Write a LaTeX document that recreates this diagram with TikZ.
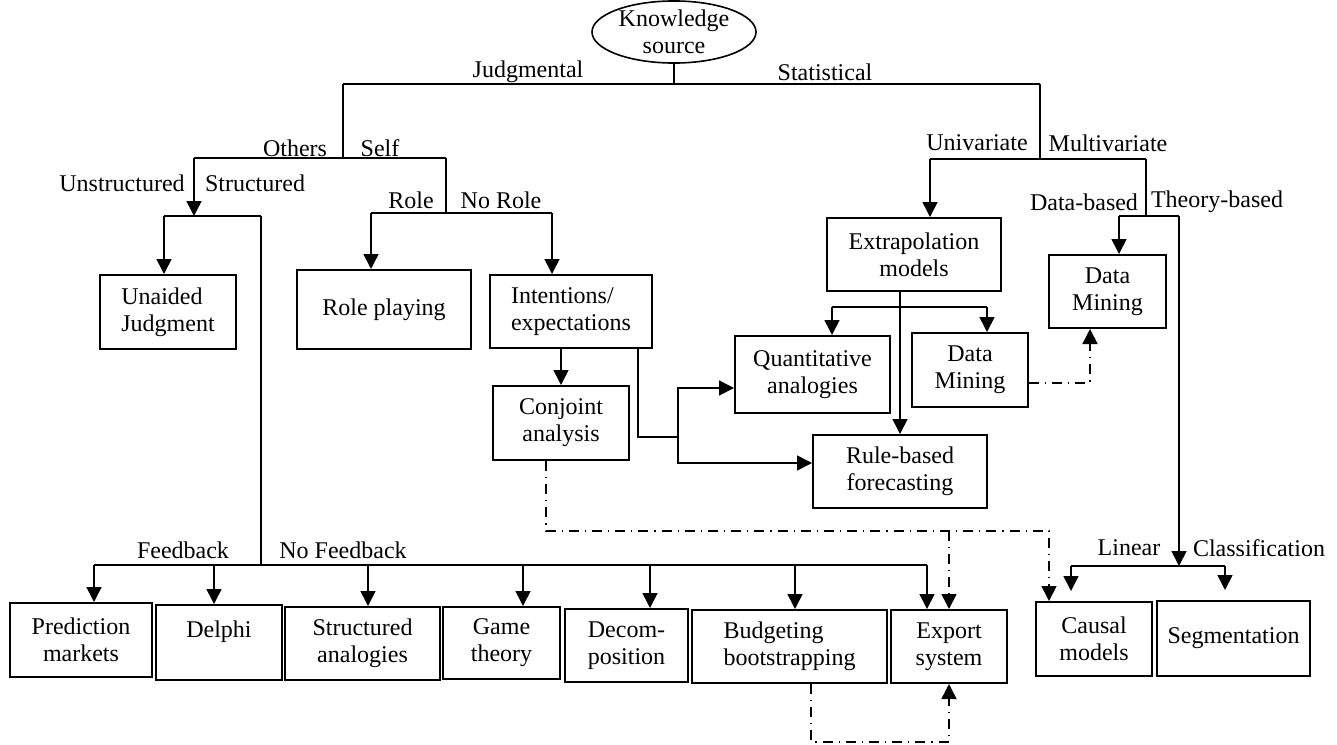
\documentclass[tikz,border=0pt]{standalone}
\usepackage{fontspec}
\setmainfont{Liberation Serif}
\usetikzlibrary{shapes.geometric,arrows.meta,calc}

\def\drop#1#2{\draw[arr] (#1) -- (#1 |- #2.north);}

\tikzset{
  box/.style={draw, line width=1pt, align=center, inner sep=2pt},
  lbl/.style={inner sep=0pt},
  arr/.style={-{Triangle[width=7.5pt,length=7.5pt]}},
  dashdot/.style={dash pattern=on 5pt off 3pt on 0.6pt off 3pt},
}

\begin{document}
\begin{tikzpicture}[x=0.5pt, y=-0.5pt, line width=0.8pt, font=\fontsize{12}{13.5}\selectfont]
	\useasboundingbox (0,0) rectangle (1337,744);

	\node[draw, ellipse, minimum width=82pt, minimum height=30pt, inner sep=0pt, align=center] (know) at (674,32) {Knowledge\\source};

	\node[box, minimum width=68pt, minimum height=37pt, align=left] (unaided) at (168,312) {Unaided\\Judgment};
	\node[box, minimum width=87pt, minimum height=39.5pt] (roleplay) at (384,309.5) {Role playing};
	\node[box, minimum width=81pt, minimum height=36.5pt, align=left] (intent) at (571,311.5) {Intentions/\\expectations};
	\node[box, minimum width=68pt, minimum height=37pt] (conjoint) at (561,423) {Conjoint\\analysis};
	\node[box, minimum width=87pt, minimum height=36.5pt] (extrap) at (914,254.5) {Extrapolation\\models};
	\node[box, minimum width=77.5pt, minimum height=38.5pt] (quant) at (812.5,374.5) {Quantitative\\analogies};
	\node[box, minimum width=58pt, minimum height=37pt] (dmine) at (970,370) {Data\\Mining};
	\node[box, minimum width=58.5pt, minimum height=36.5pt] (dmineb) at (1107.5,291.5) {Data\\Mining};
	\node[box, minimum width=87pt, minimum height=36.5pt] (rule) at (900,471.5) {Rule-based\\forecasting};

	\node[box, minimum width=71pt, minimum height=37pt] (predict) at (81,640) {Prediction\\markets};
	\node[box, minimum width=63pt, minimum height=37.5pt] (delphi) at (219,642.5) {Delphi\\\mbox{}};
	\node[box, minimum width=77.5pt, minimum height=36.5pt] (struct) at (362.5,643.5) {Structured\\analogies};
	\node[box, minimum width=58.5pt, minimum height=36pt] (game) at (501.5,643) {Game\\theory};
	\node[box, minimum width=61.5pt, minimum height=36.5pt] (decomp) at (626.5,645.5) {Decom-\\position};
	\node[box, minimum width=97.5pt, minimum height=36.5pt, align=left] (budget) at (789.5,646.5) {Budgeting\\bootstrapping};
	\node[box, minimum width=58pt, minimum height=36.5pt] (export) at (949,646.5) {Export\\system};
	\node[box, minimum width=58pt, minimum height=37pt] (causal) at (1094,639) {Causal\\models};
	\node[box, minimum width=76.5pt, minimum height=37.5pt] (segment) at (1233.5,638.5) {Segmentation};

	\node[lbl] (judg) at (528,72) {Judgmental};
	\node[lbl] (stat) at (825,72) {Statistical};
	\node[lbl] (others) at (295,148) {Others};
	\node[lbl] (self) at (380,148) {Self};
	\node[lbl] (unstr) at (122,183) {Unstructured};
	\node[lbl] (structd) at (255,183) {Structured};
	\node[lbl] (role) at (411,200) {Role};
	\node[lbl] (norole) at (501,200) {No Role};
	\node[lbl] (univ) at (977,143) {Univariate};
	\node[lbl] (multiv) at (1108,143) {Multivariate};
	\node[lbl] (datab) at (1084,202) {Data-based};
	\node[lbl] (theoryb) at (1217,202) {Theory-based};
	\node[lbl] (feedb) at (183,550) {Feedback};
	\node[lbl] (nofeedb) at (343,550) {No Feedback};
	\node[lbl] (linear) at (1129,548) {Linear};
	\node[lbl] (classif) at (1259,548) {Classification};

	\coordinate (jL) at (343,84);
	\coordinate (jR) at (1040,84);
	\coordinate (osL) at (194,158);
	\coordinate (osR) at (446,158);
	\coordinate (sL) at (164,216);
	\coordinate (sR) at (261,216);
	\coordinate (rL) at (371,213);
	\coordinate (rR) at (552,213);
	\coordinate (uL) at (930,159);
	\coordinate (uR) at (1146,159);
	\coordinate (dL) at (1119,216);
	\coordinate (dR) at (1179,216);
	\coordinate (eL) at (832,307);
	\coordinate (eR) at (987,307);
	\coordinate (fk) at (678,437);
	\coordinate (lL) at (1071,566);
	\coordinate (lR) at (1225,566);
	\coordinate (cd) at (546,531);
	\coordinate (ce) at (1049,531);
	\coordinate (bb) at (811,742);
	\foreach \n/\x in {1/94,2/214,3/368,4/523,5/650,6/795,7/927}
		\coordinate (fb\n) at (\x,565);

	\draw (know) -- (know |- jL);
	\draw (jL) -- (jR);
	\draw (jL) -- (jL |- osL);
	\draw (osL) -- (osR);
	\draw[arr] (osL) -- (osL |- sL);
	\draw (sL) -- (sR);
	\drop{sL}{unaided}
	\draw (sR) -- (sR |- fb1);
	\draw (fb1) -- (fb7);
	\drop{fb1}{predict}
	\drop{fb2}{delphi}
	\drop{fb3}{struct}
	\drop{fb4}{game}
	\drop{fb5}{decomp}
	\drop{fb6}{budget}
	\drop{fb7}{export}

	\draw (osR) -- (osR |- rL);
	\draw (rL) -- (rR);
	\drop{rL}{roleplay}
	\drop{rR}{intent}
	\draw[arr] (intent.south -| conjoint.north) -- (conjoint.north);
	\draw ($(intent.south east)+(-15,0)$) |- (fk);
	\draw[arr] (fk) |- ($(quant.west)+(0,13.5)$);
	\draw[arr] (fk) |- ($(rule.west)+(0,-8.5)$);

	\draw (jR) -- (jR |- uL);
	\draw (uL) -- (uR);
	\drop{uL}{extrap}
	\draw (uR) -- (uR |- dL);
	\draw (dL) -- (dR);
	\drop{dL}{dmineb}
	\draw[arr] (dR) -- (dR |- lL);
	\draw (lL) -- (lR);
	\draw[arr, shorten >=5pt] (lL) -- (lL |- causal.north);
	\draw[arr, shorten >=5pt] (lR) -- (lR |- segment.north);

	\draw[arr] (extrap.south -| rule.north) -- (rule.north);
	\draw (eL) -- (eR);
	\drop{eL}{quant}
	\drop{eR}{dmine}

	\draw[dashdot, arr] ($(dmine.east)+(0,13)$) -| ($(dmineb.south)+(-17.5,0)$);
	\draw[dashdot, arr] (conjoint.south -| cd) -- (cd) -- (ce) -- (ce |- causal.north);
	\draw[dashdot, arr] (export.north |- cd) -- (export.north);
	\draw[dashdot, arr] (budget.south -| bb) -- (bb) -| (export.south);
\end{tikzpicture}
\end{document}
